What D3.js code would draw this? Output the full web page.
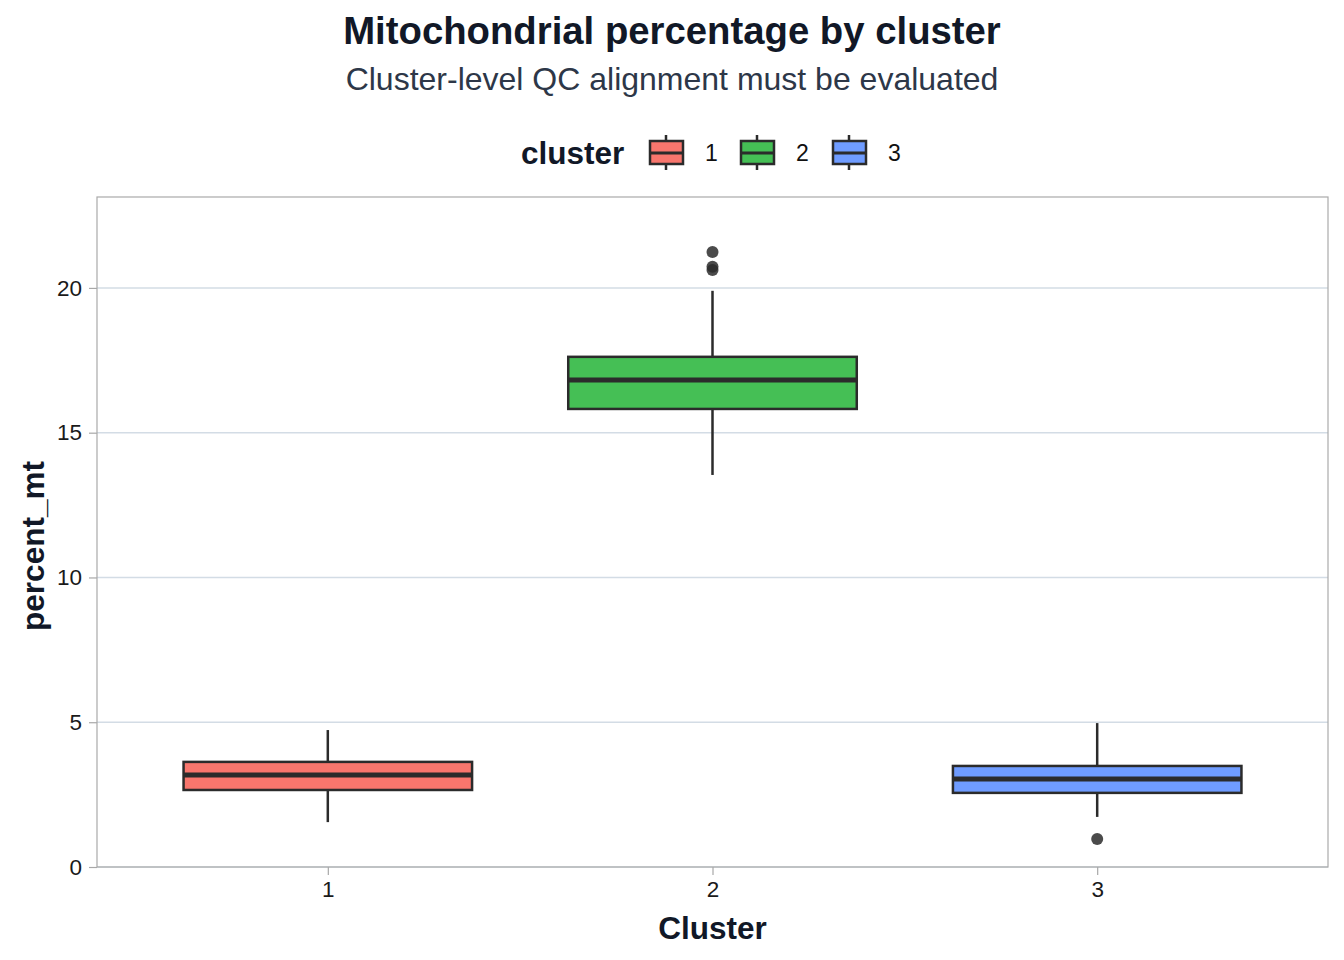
<!DOCTYPE html>
<html>
<head>
<meta charset="utf-8">
<script src="https://cdn.jsdelivr.net/npm/d3@7"></script>
<style>
  body { margin: 0; background: #fff; }
  text { font-family: "Liberation Sans", Arial, sans-serif; }
</style>
</head>
<body>
<svg id="chart" width="1344" height="960"></svg>
<script>
// values
const clusters = ["1", "2", "3"];
const colors = ["#F8766D", "#45BF55", "#6F9CFF"];
const whiskerLow = [1.55, 13.54, 1.73];
const q1 = [2.66, 15.82, 2.56];
const medians = [3.18, 16.82, 3.04];
const q3 = [3.63, 17.62, 3.49];
const whiskerHigh = [4.73, 19.9, 4.97];
const outliers = [[], [21.24, 20.73, 20.62], [0.97]];
const yTicks = [0, 5, 10, 15, 20];

const boxes = clusters.map((c, i) => ({
  cluster: c, color: colors[i], lo: whiskerLow[i], q1: q1[i],
  med: medians[i], q3: q3[i], hi: whiskerHigh[i], out: outliers[i]
}));

const svg = d3.select("#chart");
const margin = {top: 197, right: 16, bottom: 93, left: 97};
const width = 1344 - margin.left - margin.right;
const height = 960 - margin.top - margin.bottom;

// discrete scale with ggplot-like 0.6 expansion
const x = d3.scaleLinear().domain([0.4, 3.6]).range([0, width]);
const y = d3.scaleLinear().domain([0, 23.14]).range([height, 0]);
const boxW = (x(1.375) - x(1)) * 2;

const g = svg.append("g").attr("transform", `translate(${margin.left},${margin.top})`);

// grid lines
g.selectAll(".grid").data(yTicks).enter().append("line")
  .attr("x1", 0).attr("x2", width)
  .attr("y1", d => y(d)).attr("y2", d => y(d))
  .attr("stroke", "#D3DCE5").attr("stroke-width", 1.5);

// axes
const yAxis = g.append("g").call(d3.axisLeft(y).tickValues(yTicks).tickSize(8).tickPadding(7));
const xAxis = g.append("g").attr("transform", `translate(0,${height})`)
  .call(d3.axisBottom(x).tickValues([1, 2, 3]).tickFormat((d, i) => clusters[i]).tickSize(8).tickPadding(6));
[yAxis, xAxis].forEach(a => {
  a.select(".domain").remove();
  a.selectAll("line").attr("stroke", "#A8A8A8").attr("stroke-width", 1.2);
  a.selectAll("text").attr("fill", "#1a1a1a").style("font-size", "22.5px");
});

// panel border
g.append("rect").attr("width", width).attr("height", height)
  .attr("fill", "none").attr("stroke", "#AAAAAA").attr("stroke-width", 1.2);

// boxes
const bx = g.selectAll(".box").data(boxes).enter().append("g").attr("class", "box");
bx.append("line")
  .attr("x1", (d, i) => x(i + 1)).attr("x2", (d, i) => x(i + 1))
  .attr("y1", d => y(d.hi)).attr("y2", d => y(d.q3))
  .attr("stroke", "#2B2B2B").attr("stroke-width", 2.5);
bx.append("line")
  .attr("x1", (d, i) => x(i + 1)).attr("x2", (d, i) => x(i + 1))
  .attr("y1", d => y(d.q1)).attr("y2", d => y(d.lo))
  .attr("stroke", "#2B2B2B").attr("stroke-width", 2.5);
bx.append("rect")
  .attr("x", (d, i) => x(i + 1) - boxW / 2).attr("width", boxW)
  .attr("y", d => y(d.q3)).attr("height", d => y(d.q1) - y(d.q3))
  .attr("fill", d => d.color).attr("stroke", "#2B2B2B").attr("stroke-width", 2.5);
bx.append("line")
  .attr("x1", (d, i) => x(i + 1) - boxW / 2).attr("x2", (d, i) => x(i + 1) + boxW / 2)
  .attr("y1", d => y(d.med)).attr("y2", d => y(d.med))
  .attr("stroke", "#2B2B2B").attr("stroke-width", 5);
bx.each(function(d, i) {
  d3.select(this).selectAll("circle").data(d.out).enter().append("circle")
    .attr("cx", x(i + 1)).attr("cy", v => y(v)).attr("r", 6)
    .attr("fill", "#2B2B2B").attr("fill-opacity", 0.85);
});

// titles
svg.append("text").attr("x", 672).attr("y", 44).attr("text-anchor", "middle")
  .style("font-size", "38.3px").style("font-weight", "bold").attr("fill", "#111827")
  .text("Mitochondrial percentage by cluster");
svg.append("text").attr("x", 672).attr("y", 90).attr("text-anchor", "middle")
  .style("font-size", "32px").attr("fill", "#2D3748")
  .text("Cluster-level QC alignment must be evaluated");
svg.append("text").attr("x", margin.left + width / 2).attr("y", 939).attr("text-anchor", "middle")
  .style("font-size", "31.5px").style("font-weight", "bold").attr("fill", "#111827")
  .text("Cluster");
svg.append("text").attr("transform", `translate(44,${margin.top + height / 2 + 14}) rotate(-90)`)
  .attr("text-anchor", "middle")
  .style("font-size", "31.5px").style("font-weight", "bold").attr("fill", "#111827")
  .text("percent_mt");

// legend
const legend = svg.append("g").attr("transform", "translate(0,153)");
legend.append("text").attr("x", 521).attr("y", 11)
  .style("font-size", "31.5px").style("font-weight", "bold").attr("fill", "#111827")
  .text("cluster");
const keyX = [650, 741, 833];
legend.selectAll(".key").data(boxes).enter().append("g")
  .attr("transform", (d, i) => `translate(${keyX[i]},0)`)
  .each(function(d) {
    const k = d3.select(this);
    k.append("line").attr("x1", 16).attr("x2", 16).attr("y1", -18).attr("y2", 17)
      .attr("stroke", "#2B2B2B").attr("stroke-width", 2.5);
    k.append("rect").attr("x", 0).attr("y", -12).attr("width", 33).attr("height", 23)
      .attr("fill", d.color).attr("stroke", "#2B2B2B").attr("stroke-width", 2.5);
    k.append("line").attr("x1", 0).attr("x2", 33).attr("y1", 0).attr("y2", 0)
      .attr("stroke", "#2B2B2B").attr("stroke-width", 3);
    k.append("text").attr("x", 55).attr("y", 8)
      .style("font-size", "23px").attr("fill", "#111").text(d.cluster);
  });
</script>
</body>
</html>
